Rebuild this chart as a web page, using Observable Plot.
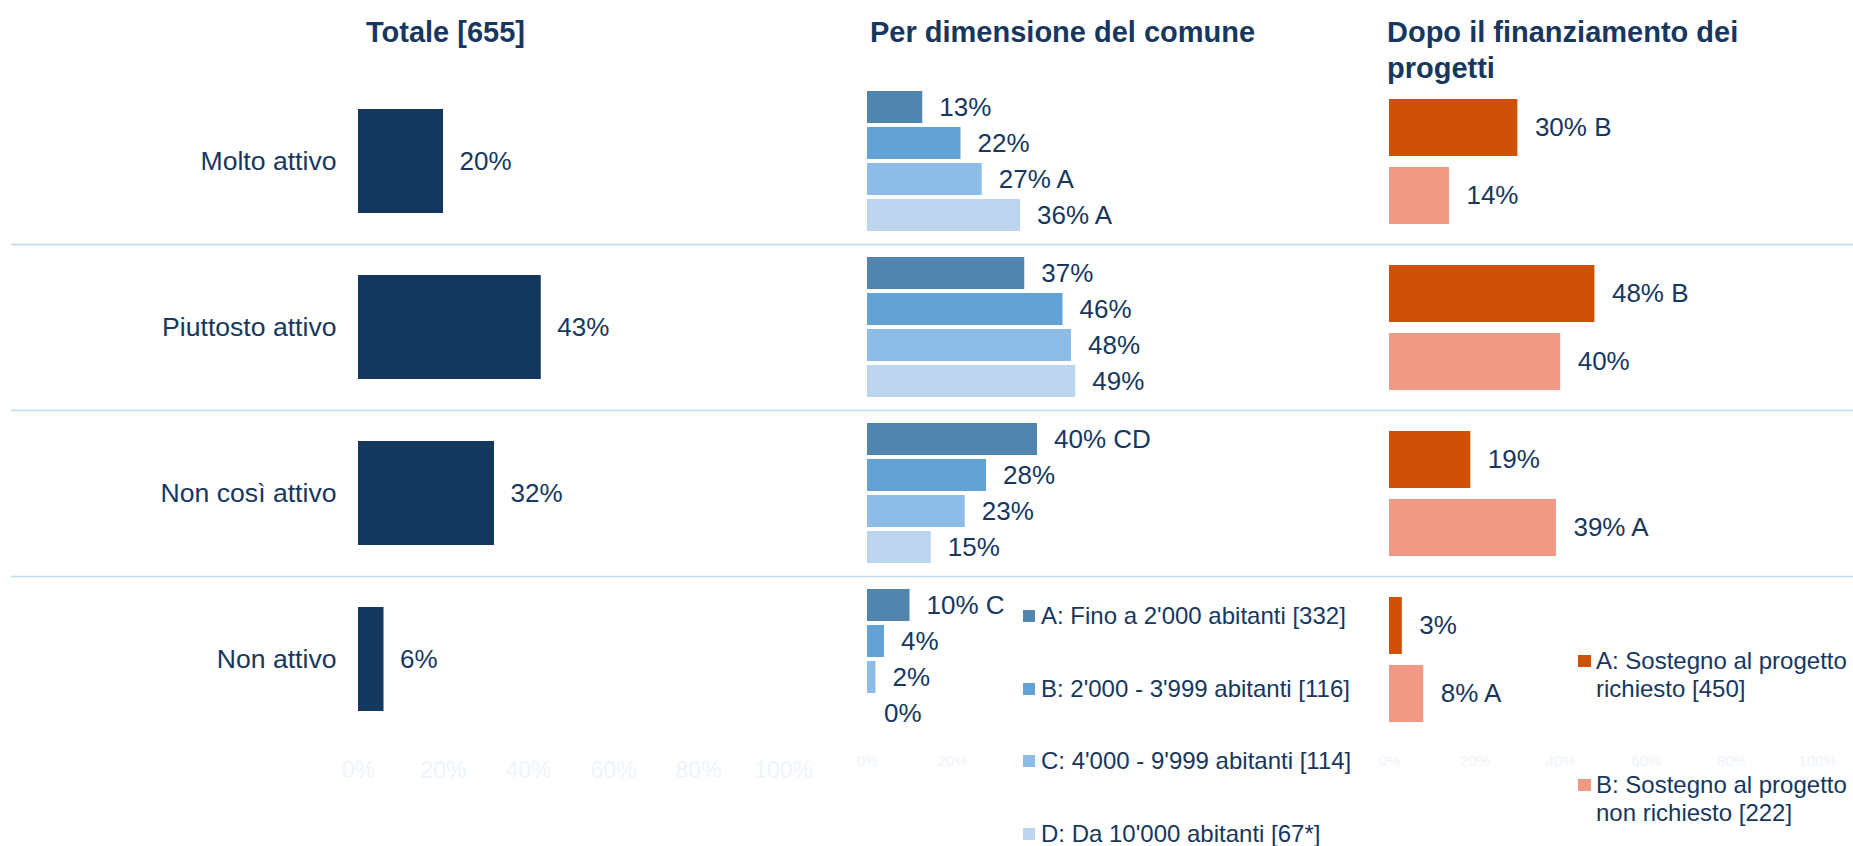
<!DOCTYPE html>
<html>
<head>
<meta charset="utf-8">
<script src="https://cdn.jsdelivr.net/npm/d3@7"></script>
<script src="https://cdn.jsdelivr.net/npm/@observablehq/plot@0.6"></script>
<style>
  html, body { margin: 0; padding: 0; background: #ffffff; }
  #root { position: relative; width: 1853px; height: 846px; overflow: hidden;
          font-family: "Liberation Sans", Arial, Helvetica, sans-serif; color: #17375e; }
  #root svg { position: absolute; left: 0; top: 0; max-width: none; }
  .title { position: absolute; font-weight: bold; font-size: 29px; line-height: 36px; white-space: nowrap; }
  .leg { position: absolute; display: flex; align-items: center; white-space: nowrap; }
  .sw { display: inline-block; width: 12px; height: 12px; margin-right: 6px; flex: none; }
  .leg3 { position: absolute; font-size: 24px; line-height: 28px; white-space: nowrap; }
  .sw3 { position: absolute; width: 13px; height: 12px; }
</style>
</head>
<body>
<div id="root"></div>
<script>
// ---------------- data ----------------
const categories = ["Molto attivo", "Piuttosto attivo", "Non così attivo", "Non attivo"];
const totale = [20, 43, 32, 6];

const sizeGroups = ["A", "B", "C", "D"];
const sizeA = [13, 37, 40, 10];
const sizeB = [22, 46, 28, 4];
const sizeC = [27, 48, 23, 2];
const sizeD = [36, 49, 15, 0];
const sizeSigA = ["", "", "CD", "C"];
const sizeSigB = ["", "", "", ""];
const sizeSigC = ["A", "", "", ""];
const sizeSigD = ["A", "", "", ""];
const sizeLegend = [
  "A: Fino a 2'000 abitanti [332]",
  "B: 2'000 - 3'999 abitanti [116]",
  "C: 4'000 - 9'999 abitanti [114]",
  "D: Da 10'000 abitanti [67*]"
];

const fundGroups = ["A", "B"];
const fundA = [30, 48, 19, 3];
const fundB = [14, 40, 39, 8];
const fundSigA = ["B", "B", "", ""];
const fundSigB = ["", "", "A", "A"];
const fundLegend = [
  ["A: Sostegno al progetto", "richiesto [450]"],
  ["B: Sostegno al progetto", "non richiesto [222]"]
];

const xTicks = [0, 20, 40, 60, 80, 100];
const titles = ["Totale [655]", "Per dimensione del comune", "Dopo il finanziamento dei\nprogetti"];

// ---------------- styles ----------------
const TEXT = "#17375e";
const TICK = "#edf4fb";
const totColor = "#14375e";
const sizeColors = ["#5085ae", "#62a2d4", "#8dbde6", "#bdd5ee"];
const fundColors = ["#cf5108", "#f09985"];
const SEP = "#bddcf0";
const FONT = "'Liberation Sans', Arial, Helvetica, sans-serif";

const W = 1853, H = 846;
const TOP = 78, BOTTOM = H - 742;
const fyBase = {domain: categories, paddingInner: 0.108, paddingOuter: 0.054};
const svgStyle = {background: "transparent", fontFamily: FONT, color: TEXT, overflow: "visible"};
const pct = d => d + "%";

const root = document.getElementById("root");

// tidy tables
const totData = categories.map((c, i) => ({cat: c, series: "Totale", value: totale[i], label: totale[i] + "%"}));

const sizeVals = [sizeA, sizeB, sizeC, sizeD];
const sizeSigs = [sizeSigA, sizeSigB, sizeSigC, sizeSigD];
const sizeData = [];
sizeGroups.forEach((g, j) => categories.forEach((c, i) => {
  const v = sizeVals[j][i], s = sizeSigs[j][i];
  sizeData.push({cat: c, series: g, value: v, label: v + "%" + (s ? " " + s : "")});
}));

const fundVals = [fundA, fundB];
const fundSigs = [fundSigA, fundSigB];
const fundData = [];
fundGroups.forEach((g, j) => categories.forEach((c, i) => {
  const v = fundVals[j][i], s = fundSigs[j][i];
  fundData.push({cat: c, series: g, value: v, label: v + "%" + (s ? " " + s : "")});
}));

// ---------------- separators ----------------
const sep = Plot.plot({
  width: W, height: H, marginLeft: 11, marginRight: 0, marginTop: TOP, marginBottom: BOTTOM,
  style: svgStyle,
  y: {domain: [0, categories.length], reverse: true, axis: null},
  marks: [
    Plot.ruleY(d3.range(1, categories.length), {stroke: SEP, strokeWidth: 1.6})
  ]
});
root.appendChild(sep);

// ---------------- panel 1 ----------------
const p1 = Plot.plot({
  width: W, height: H, marginLeft: 358, marginRight: W - 783, marginTop: TOP, marginBottom: BOTTOM,
  style: svgStyle,
  x: {domain: [0, 100]},
  y: {domain: ["Totale"], padding: 0.174, axis: null},
  fy: fyBase,
  marks: [
    Plot.barX(totData, {x: "value", y: "series", fy: "cat", fill: totColor}),
    Plot.text(totData, {x: "value", y: "series", fy: "cat", text: "label", dx: 16, textAnchor: "start", fontSize: 26, fill: TEXT}),
    Plot.axisFy({anchor: "left", tickSize: 0, tickPadding: 22, fontSize: 26.6, color: TEXT, label: null}),
    Plot.axisX({ticks: xTicks, tickFormat: pct, tickSize: 0, tickPadding: 28, fontSize: 23, color: TICK, label: null})
  ]
});
root.appendChild(p1);

// ---------------- panel 2 ----------------
const p2 = Plot.plot({
  width: W, height: H, marginLeft: 867, marginRight: W - 1292, marginTop: TOP, marginBottom: BOTTOM,
  style: svgStyle,
  x: {domain: [0, 100]},
  y: {domain: sizeGroups, padding: 0.111, axis: null},
  fy: {...fyBase, axis: null},
  color: {domain: sizeGroups, range: sizeColors},
  marks: [
    Plot.axisX({ticks: xTicks, tickFormat: pct, tickSize: 0, tickPadding: 22, fontSize: 15, color: TICK, label: null}),
    Plot.barX(sizeData, {x: "value", y: "series", fy: "cat", fill: "series"}),
    Plot.text(sizeData, {x: "value", y: "series", fy: "cat", text: "label", dx: 16.5, textAnchor: "start", fontSize: 26, fill: TEXT})
  ]
});
root.appendChild(p2);

// ---------------- panel 3 ----------------
const p3 = Plot.plot({
  width: W, height: H, marginLeft: 1389, marginRight: W - 1817, marginTop: TOP, marginBottom: BOTTOM,
  style: svgStyle,
  x: {domain: [0, 100]},
  y: {domain: fundGroups, padding: 0.162, axis: null},
  fy: {...fyBase, axis: null},
  color: {domain: fundGroups, range: fundColors},
  marks: [
    Plot.axisX({ticks: xTicks, tickFormat: pct, tickSize: 0, tickPadding: 22, fontSize: 15, color: TICK, label: null}),
    Plot.barX(fundData, {x: "value", y: "series", fy: "cat", fill: "series"}),
    Plot.text(fundData, {x: "value", y: "series", fy: "cat", text: "label", dx: 17, textAnchor: "start", fontSize: 26, fill: TEXT})
  ]
});
root.appendChild(p3);

// ---------------- titles ----------------
const titleLeft = [366, 870, 1387];
titles.forEach((t, i) => {
  const d = document.createElement("div");
  d.className = "title";
  d.style.left = titleLeft[i] + "px";
  d.style.top = "14px";
  d.style.whiteSpace = "pre";
  d.textContent = t;
  root.appendChild(d);
});

// ---------------- legend panel 2 ----------------
sizeLegend.forEach((t, i) => {
  const d = document.createElement("div");
  d.className = "leg";
  d.style.left = "1023px";
  d.style.top = (616 + i * 72.6 - 12) + "px";
  d.style.height = "24px";
  d.style.fontSize = "24px";
  d.style.lineHeight = "24px";
  const sw = document.createElement("span");
  sw.className = "sw";
  sw.style.background = sizeColors[i];
  const tx = document.createElement("span");
  tx.textContent = t;
  d.appendChild(sw); d.appendChild(tx);
  root.appendChild(d);
});

// ---------------- legend panel 3 ----------------
const fundLegTop = [661, 785];
fundLegend.forEach((lines, i) => {
  const sw = document.createElement("div");
  sw.className = "sw3";
  sw.style.left = "1578px";
  sw.style.top = (fundLegTop[i] - 6) + "px";
  sw.style.background = fundColors[i];
  root.appendChild(sw);
  const d = document.createElement("div");
  d.className = "leg3";
  d.style.left = "1596px";
  d.style.top = (fundLegTop[i] - 14) + "px";
  d.style.whiteSpace = "pre";
  d.textContent = lines.join("\n");
  root.appendChild(d);
});
</script>
</body>
</html>
